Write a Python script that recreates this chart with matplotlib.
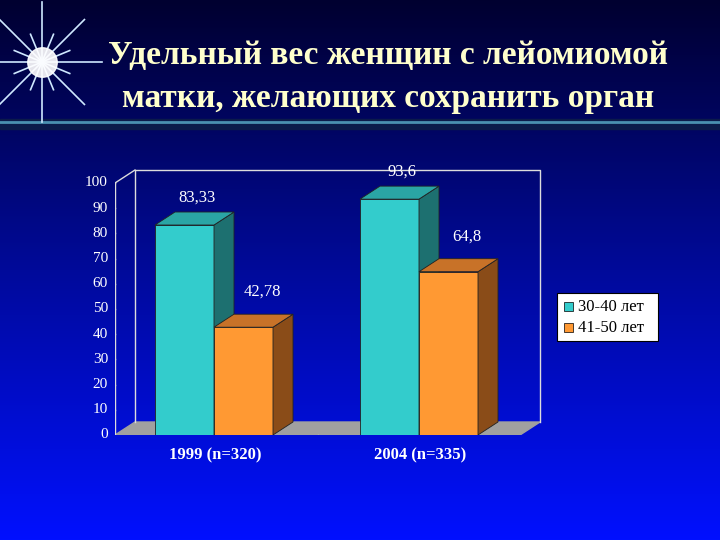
import numpy as np
import matplotlib
matplotlib.use('Agg')
import matplotlib.pyplot as plt
from matplotlib.patches import Polygon, Rectangle

years = ['1999 (n=320)', '2004 (n=335)']
series = ['30-40 лет', '41-50 лет']
vals_3040 = [83.33, 93.6]
vals_4150 = [42.78, 64.8]
labels_3040 = ['83,33', '93,6']
labels_4150 = ['42,78', '64,8']
yticks = list(range(0, 101, 10))

serif = 'Liberation Serif'
fig = plt.figure(figsize=(7.2, 5.4), dpi=100)

# background gradient, full figure in pixel coords
bg = fig.add_axes([0, 0, 1, 1])
grad = np.linspace(0, 1, 256).reshape(-1, 1)
cmap = matplotlib.colors.LinearSegmentedColormap.from_list('bg', ['#000030', '#000a9a', '#0010ff'])
bg.imshow(grad, aspect='auto', cmap=cmap, extent=[0, 720, 540, 0])
bg.set_xlim(0, 720); bg.set_ylim(540, 0); bg.axis('off')

# title band
bg.add_patch(Rectangle((0, 119), 720, 10, color='#0b1a4a'))
bg.plot([0, 720], [122, 122], color='#4a8fb0', lw=2)

# star
cx, cy = 42, 62
for ang in np.linspace(0, 2 * np.pi, 16, endpoint=False):
    r = 60 if int(round(ang / (np.pi / 8))) % 2 == 0 else 30
    bg.plot([cx, cx + r * np.cos(ang)], [cy, cy + r * np.sin(ang)], color='#cfe8ff', lw=1.2)
bg.scatter([cx], [cy], s=450, color='white', alpha=0.9, zorder=5)

bg.text(388, 55, 'Удельный вес женщин с лейомиомой', fontsize=24, color='#ffffcc',
        family=serif, weight='bold', ha='center', va='center')
bg.text(388, 98, 'матки, желающих сохранить орган', fontsize=24, color='#ffffcc',
        family=serif, weight='bold', ha='center', va='center')

# chart axes: x in pixels, y in values (0 at px 435, 100 at px 183)
k = 2.52
ax = fig.add_axes([115 / 720, (540 - 435) / 540, (545 - 115) / 720, 270 / 540])
ax.set_xlim(115, 545)
ax.set_ylim(0, 270 / k)
ax.axis('off')
dx, dy = 20, 13 / k
top = 100 + dy

# floor
ax.add_patch(Polygon([(115, 0), (520, 0), (520 + dx, dy), (115 + dx, dy)], color='#a0a0a0'))
# walls
wc = '#dddddd'
ax.plot([115, 115], [0, 100], color=wc, lw=1)
ax.plot([115, 115 + dx], [100, top], color=wc, lw=1)
ax.plot([115 + dx, 115 + dx, 520 + dx, 520 + dx], [dy, top, top, dy], color=wc, lw=1)
for t in yticks:
    ax.plot([110, 115], [t, t], color=wc, lw=1)
    ax.text(108, t, str(t), color='white', fontsize=11, family=serif, ha='right', va='center')
ax.plot([318, 318], [0, -2], color=wc, lw=1)


def bar3d(x0, w, v, front, side, topc):
    ax.add_patch(Rectangle((x0, 0), w, v, facecolor=front, edgecolor='#222222', lw=0.6))
    ax.add_patch(Polygon([(x0 + w, 0), (x0 + w + dx, dy), (x0 + w + dx, v + dy), (x0 + w, v)],
                         facecolor=side, edgecolor='#222222', lw=0.6))
    ax.add_patch(Polygon([(x0, v), (x0 + dx, v + dy), (x0 + w + dx, v + dy), (x0 + w, v)],
                         facecolor=topc, edgecolor='#222222', lw=0.6))


starts = [155, 360]
w = 59
for i, x0 in enumerate(starts):
    bar3d(x0, w, vals_3040[i], '#33cccc', '#1d7070', '#2aa5a5')
    bar3d(x0 + w, w, vals_4150[i], '#ff9933', '#8a4c18', '#c87228')
    ax.text(x0 + 42, vals_3040[i] + 11, labels_3040[i], color='white', fontsize=12,
            family=serif, ha='center', va='center')
    ax.text(x0 + w + 48, vals_4150[i] + 14, labels_4150[i], color='white', fontsize=12,
            family=serif, ha='center', va='center')
    bg.text(x0 + 60, 455, years[i], color='white', fontsize=12, family=serif,
            weight='bold', ha='center', va='center')

# legend
bg.add_patch(Rectangle((557, 293), 101, 48, facecolor='white', edgecolor='black', lw=0.8))
for j, (lab, c) in enumerate(zip(series, ['#33cccc', '#ff9933'])):
    y = 307 + j * 21
    bg.add_patch(Rectangle((564, y - 5), 9, 9, facecolor=c, edgecolor='black', lw=0.5))
    bg.text(578, y, lab, fontsize=12, family=serif, color='black', va='center')

fig.savefig('out.png', dpi=100)
